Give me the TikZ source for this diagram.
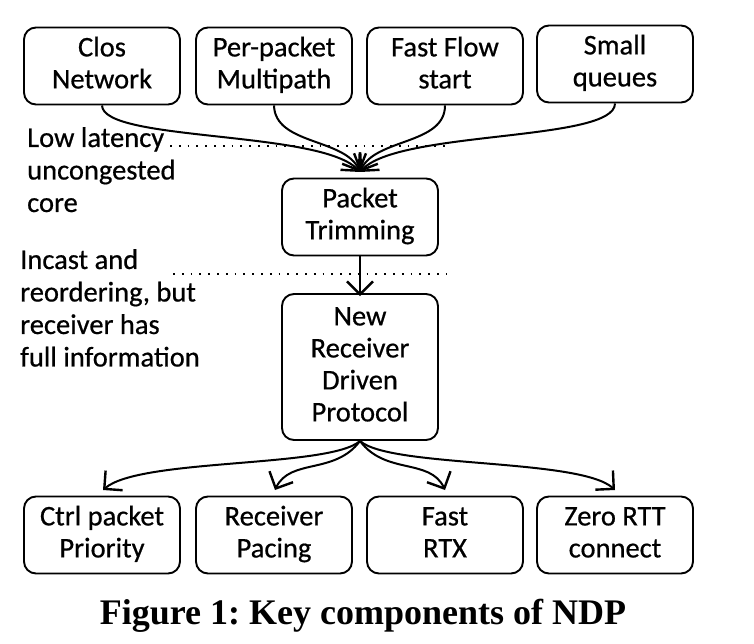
\documentclass[tikz,border=0pt]{standalone}
\usepackage{fontspec}
\setmainfont[FakeBold=0.6]{Carlito}
\newfontfamily\capfont{Liberation Serif}
\usetikzlibrary{arrows.meta}
\newcommand{\lnst}{\strut}
\frenchspacing
\begin{document}
\begin{tikzpicture}[x=1pt,y=-1pt,
  box/.style={draw,line width=1.9pt,rounded corners=12pt,minimum width=156pt,minimum height=77pt,inner sep=0pt,align=center,font=\fontsize{28.5}{32}\selectfont},
  conn/.style={line width=2pt,-{Straight Barb[length=13pt,width=26pt,line width=2.4pt]}},
  lbl/.style={inner sep=0pt,align=left,anchor=north west,font=\fontsize{28.5}{32.5}\selectfont},
  dots/.style={line width=1.7pt,dash pattern=on 1.7pt off 7.1pt}]
\useasboundingbox (0,0) rectangle (754,644);
\node[box] (clos) at (102,66) {\lnst Clos\\\lnst Network};
\node[box] (ppm) at (274,66) {\lnst Per-packet\\\lnst Multipath};
\node[box] (ffs) at (445,66) {\lnst Fast Flow\\\lnst start};
\node[box] (sq) at (615,64) {\lnst Small\\\lnst queues};
\node[box] (pt) at (360,217) {\lnst Packet\\\lnst Trimming};
\node[box,minimum height=146pt] (ndp) at (360,367) {\lnst New\\\lnst Receiver\\\lnst Driven\\\lnst Protocol};
\node[box] (cpp) at (102,535) {\lnst Ctrl packet\\\lnst Priority};
\node[box] (rp) at (274,535) {\lnst Receiver\\\lnst Pacing};
\node[box] (frtx) at (445,535) {\lnst Fast\\\lnst RTX};
\node[box] (zrtt) at (615,535) {\lnst Zero RTT\\\lnst connect};
\coordinate (merge) at (360,172);
\node[lbl] (l1) at (27,127) {Low latency\\uncongested\\core};
\node[lbl] (l2) at (20,249) {Incast and\\reordering, but\\receiver has\\full information};
\coordinate (d1a) at (170,146); \coordinate (d1b) at (446,146);
\coordinate (d2a) at (173,274); \coordinate (d2b) at (446,274);
\draw[dots] (d1a) -- (d1b);
\draw[dots] (d2a) -- (d2b);
\draw[conn] (clos.south) .. controls (103,142) and (322,130) .. (merge);
\draw[conn] (ppm.south) .. controls (275,145) and (345,138) .. (merge);
\draw[conn] (ffs.south) .. controls (445,145) and (375,138) .. (merge);
\draw[conn] (sq.south) .. controls (615,142) and (398,130) .. (merge);
\draw[conn] (pt.south) -- ([yshift=-3pt]ndp.north);
\coordinate (t1) at (103,490); \coordinate (t2) at (275,490);
\coordinate (t3) at (445,490); \coordinate (t4) at (615,490);
\draw[conn] (ndp.south) .. controls (330,468) and (140,458) .. (t1);
\draw[conn] (ndp.south) .. controls (335,475) and (290,458) .. (t2);
\draw[conn] (ndp.south) .. controls (385,475) and (430,458) .. (t3);
\draw[conn] (ndp.south) .. controls (390,468) and (580,458) .. (t4);
\node[inner sep=0pt,anchor=base,font=\capfont\bfseries\fontsize{36}{40}\selectfont] (cap) at (363,624) {Figure 1: Key components of NDP};
\end{tikzpicture}
\end{document}
